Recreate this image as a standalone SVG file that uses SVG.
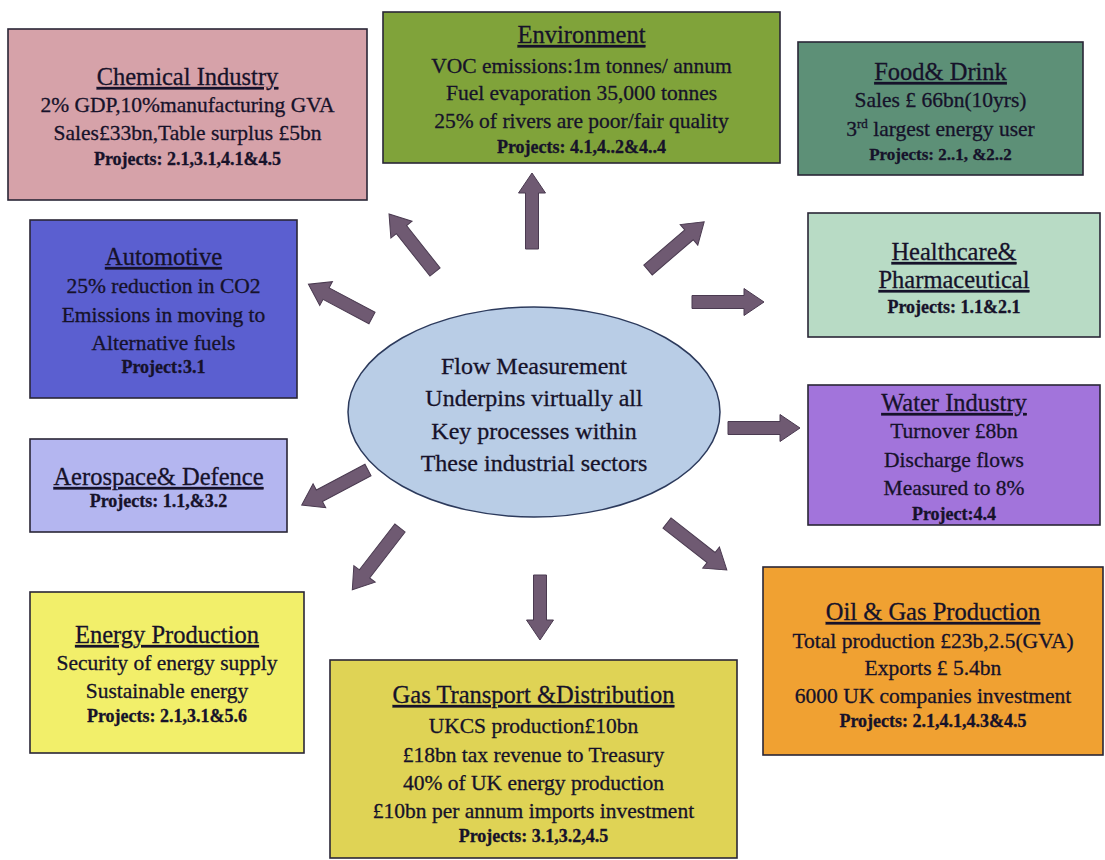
<svg xmlns="http://www.w3.org/2000/svg" width="1105" height="860" viewBox="0 0 1105 860">
<style>
.box{stroke:#2a2636;stroke-width:1.6}
text{font-family:"Liberation Serif","Times New Roman",serif;fill:#16122a;stroke:#16122a;stroke-width:0.3;text-anchor:middle}
.t{font-size:24.5px;text-decoration:underline}
.b{font-size:21.5px}
.p{font-size:18px;font-weight:bold}
.c{font-size:24px}
.arr{fill:#6f5a72;stroke:#4a3a50;stroke-width:1}
</style>
<rect width="1105" height="860" fill="#ffffff"/>
<g id="connectors">
<path class="arr" transform="translate(435,272) rotate(-128.4)" d="M0,-6.5 H54 V-13.5 L74,0 L54,13.5 V6.5 H0 Z"/>
<path class="arr" transform="translate(532,249) rotate(-90)" d="M0,-6.5 H56 V-13.5 L76,0 L56,13.5 V6.5 H0 Z"/>
<path class="arr" transform="translate(648,270) rotate(-40.6)" d="M0,-6.5 H54 V-13.5 L74,0 L54,13.5 V6.5 H0 Z"/>
<path class="arr" transform="translate(692,302)" d="M0,-6.5 H52 V-13.5 L72,0 L52,13.5 V6.5 H0 Z"/>
<path class="arr" transform="translate(728,428)" d="M0,-6.5 H52 V-13.5 L72,0 L52,13.5 V6.5 H0 Z"/>
<path class="arr" transform="translate(667,523) rotate(38.1)" d="M0,-6.5 H56 V-13.5 L76,0 L56,13.5 V6.5 H0 Z"/>
<path class="arr" transform="translate(540,575) rotate(90)" d="M0,-6.5 H45 V-13.5 L65,0 L45,13.5 V6.5 H0 Z"/>
<path class="arr" transform="translate(400,528) rotate(127.7)" d="M0,-6.5 H58 V-13.5 L78,0 L58,13.5 V6.5 H0 Z"/>
<path class="arr" transform="translate(368,470) rotate(152.1)" d="M0,-6.5 H55 V-13.5 L75,0 L55,13.5 V6.5 H0 Z"/>
<path class="arr" transform="translate(372,318) rotate(-152)" d="M0,-6.5 H52 V-13.5 L72,0 L52,13.5 V6.5 H0 Z"/>
</g>
<g id="center">
<ellipse cx="534" cy="412" rx="186" ry="105" fill="#b9cde6" stroke="#2c3a5c" stroke-width="1.5"/>
<text class="c" x="534" y="374">Flow Measurement</text>
<text class="c" x="534" y="406">Underpins virtually all</text>
<text class="c" x="534" y="439">Key processes within</text>
<text class="c" x="534" y="471">These industrial sectors</text>
</g>
<g id="chemical">
<rect class="box" x="8" y="29" width="359" height="171" fill="#d6a2a9"/>
<text class="t" x="187.5" y="85">Chemical Industry</text>
<text class="b" x="187.5" y="112">2% GDP,10%manufacturing GVA</text>
<text class="b" x="187.5" y="140">Sales£33bn,Table surplus £5bn</text>
<text class="p" x="187.5" y="165">Projects: 2.1,3.1,4.1&amp;4.5</text>
</g>
<g id="environment">
<rect class="box" x="383" y="12" width="397" height="151" fill="#80a33a"/>
<text class="t" x="581.5" y="43">Environment</text>
<text class="b" x="581.5" y="73">VOC emissions:1m tonnes/ annum</text>
<text class="b" x="581.5" y="100">Fuel evaporation 35,000 tonnes</text>
<text class="b" x="581.5" y="128">25% of rivers are poor/fair quality</text>
<text class="p" x="581.5" y="153">Projects: 4.1,4..2&amp;4..4</text>
</g>
<g id="food">
<rect class="box" x="798" y="42" width="285" height="133" fill="#5d9077"/>
<text class="t" x="940.5" y="80">Food&amp; Drink</text>
<text class="b" x="940.5" y="107">Sales £ 66bn(10yrs)</text>
<text class="b" x="940.5" y="136">3<tspan font-size="13" dy="-8">rd</tspan><tspan dy="8"> largest energy user</tspan></text>
<text class="p" x="940.5" y="160" style="font-size:17px">Projects: 2..1, &amp;2..2</text>
</g>
<g id="healthcare">
<rect class="box" x="808" y="213" width="292" height="124" fill="#b8dbc5"/>
<text class="t" x="954" y="260">Healthcare&amp;</text>
<text class="t" x="954" y="288">Pharmaceutical</text>
<text class="p" x="954" y="313">Projects: 1.1&amp;2.1</text>
</g>
<g id="automotive">
<rect class="box" x="30" y="220" width="267" height="178" fill="#5b5fd0"/>
<text class="t" x="163.5" y="265">Automotive</text>
<text class="b" x="163.5" y="293">25% reduction in CO2</text>
<text class="b" x="163.5" y="322">Emissions in moving to</text>
<text class="b" x="163.5" y="350">Alternative fuels</text>
<text class="p" x="163.5" y="373">Project:3.1</text>
</g>
<g id="water">
<rect class="box" x="808" y="385" width="292" height="140" fill="#a274db"/>
<text class="t" x="954" y="411">Water Industry</text>
<text class="b" x="954" y="438">Turnover £8bn</text>
<text class="b" x="954" y="467">Discharge flows</text>
<text class="b" x="954" y="495">Measured to 8%</text>
<text class="p" x="954" y="520">Project:4.4</text>
</g>
<g id="aerospace">
<rect class="box" x="30" y="439" width="257" height="93" fill="#b4b6f0"/>
<text class="t" x="158.5" y="485">Aerospace&amp; Defence</text>
<text class="p" x="158.5" y="507">Projects: 1.1,&amp;3.2</text>
</g>
<g id="energy">
<rect class="box" x="30" y="592" width="274" height="161" fill="#f2ef6a"/>
<text class="t" x="167" y="643">Energy Production</text>
<text class="b" x="167" y="670">Security of energy supply</text>
<text class="b" x="167" y="698">Sustainable energy</text>
<text class="p" x="167" y="722">Projects: 2.1,3.1&amp;5.6</text>
</g>
<g id="gas">
<rect class="box" x="330" y="660" width="407" height="198" fill="#dfd355"/>
<text class="t" x="533.5" y="703">Gas Transport &amp;Distribution</text>
<text class="b" x="533.5" y="733">UKCS production£10bn</text>
<text class="b" x="533.5" y="762">£18bn tax revenue to Treasury</text>
<text class="b" x="533.5" y="790">40% of UK energy production</text>
<text class="b" x="533.5" y="818">£10bn per annum imports investment</text>
<text class="p" x="533.5" y="842">Projects: 3.1,3.2,4.5</text>
</g>
<g id="oilgas">
<rect class="box" x="763" y="567" width="340" height="188" fill="#f0a132"/>
<text class="t" x="933" y="620">Oil &amp; Gas Production</text>
<text class="b" x="933" y="648">Total production £23b,2.5(GVA)</text>
<text class="b" x="933" y="675">Exports £ 5.4bn</text>
<text class="b" x="933" y="703">6000 UK companies investment</text>
<text class="p" x="933" y="727">Projects: 2.1,4.1,4.3&amp;4.5</text>
</g>
</svg>
